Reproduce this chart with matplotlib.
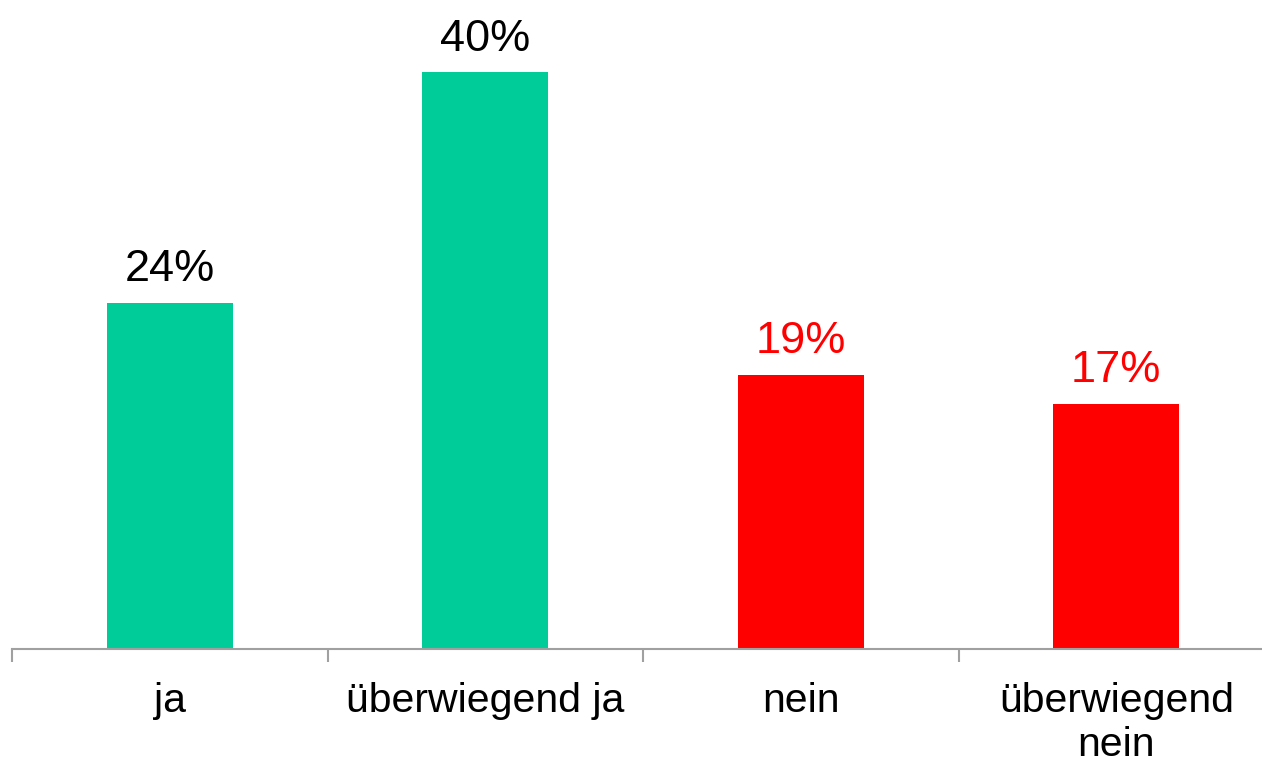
import matplotlib
matplotlib.use("Agg")
import matplotlib.pyplot as plt

plt.rcParams['font.family'] = ['Liberation Sans', 'DejaVu Sans']

# Daten
kategorien = ['ja', 'überwiegend ja', 'nein', 'überwiegend\nnein']
werte = [24, 40, 19, 17]
farben = ['#00CC99', '#00CC99', '#FF0000', '#FF0000']
label_farben = ['black', 'black', '#FF0000', '#FF0000']

fig = plt.figure(figsize=(12.62, 7.67), dpi=100)
ax = fig.add_axes([12 / 1262, 118 / 767, 1262 / 1262, 649 / 767])

x = list(range(len(werte)))
bars = ax.bar(x, werte, width=0.40, color=farben)

for b, v, c in zip(bars, werte, label_farben):
    ax.annotate(f"{v}%", (b.get_x() + b.get_width() / 2, v),
                xytext=(0, 9), textcoords='offset points',
                ha='center', va='bottom', fontsize=32.5, color=c)

ax.set_xlim(-0.5, len(werte) - 0.5)
ax.set_ylim(0, 45)

# Achse: nur unten, Ticks zwischen den Kategorien
for s in ['top', 'right', 'left']:
    ax.spines[s].set_visible(False)
ax.spines['bottom'].set_color('#a0a0a0')
ax.spines['bottom'].set_linewidth(1.5)
ax.set_yticks([])

ax.set_xticks([i - 0.5 for i in range(len(werte) + 1)])
ax.set_xticklabels([])
ax.tick_params(axis='x', which='major', length=9.5, width=1.5, color='#a0a0a0')
ax.set_xticks(x, minor=True)
ax.set_xticklabels(kategorien, minor=True, fontsize=29.5)
ax.tick_params(axis='x', which='minor', length=0, pad=24)
for t in ax.get_xticklabels(minor=True):
    t.set_linespacing(1.2)

fig.savefig('out.png', dpi=100)
